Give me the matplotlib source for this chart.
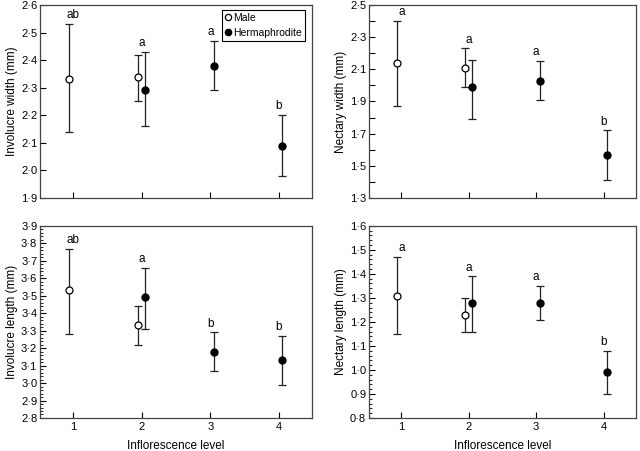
import numpy as np
import matplotlib
matplotlib.use('Agg')
import matplotlib.pyplot as plt
from matplotlib.ticker import MultipleLocator, FuncFormatter
from matplotlib.lines import Line2D

plt.rcParams['font.family'] = ['Liberation Sans', 'DejaVu Sans']
plt.rcParams['font.size'] = 8

# inflorescence levels for each sex
male_levels = [1, 2]
herm_levels = [2, 3, 4]
letter_levels = [1, 2, 3, 4]

# involucre width (mm)
iw_male = [2.33, 2.34]
iw_male_lo = [2.14, 2.25]
iw_male_hi = [2.53, 2.42]
iw_herm = [2.29, 2.38, 2.09]
iw_herm_lo = [2.16, 2.29, 1.98]
iw_herm_hi = [2.43, 2.47, 2.20]
iw_letters = ['ab', 'a', 'a', 'b']

# nectary width (mm)
nw_male = [2.14, 2.11]
nw_male_lo = [1.87, 1.99]
nw_male_hi = [2.40, 2.23]
nw_herm = [1.99, 2.03, 1.57]
nw_herm_lo = [1.79, 1.91, 1.41]
nw_herm_hi = [2.16, 2.15, 1.72]
nw_letters = ['a', 'a', 'a', 'b']

# involucre length (mm)
il_male = [3.53, 3.33]
il_male_lo = [3.28, 3.22]
il_male_hi = [3.77, 3.44]
il_herm = [3.49, 3.18, 3.13]
il_herm_lo = [3.31, 3.07, 2.99]
il_herm_hi = [3.66, 3.29, 3.27]
il_letters = ['ab', 'a', 'b', 'b']

# nectary length (mm)
nl_male = [1.31, 1.23]
nl_male_lo = [1.15, 1.16]
nl_male_hi = [1.47, 1.30]
nl_herm = [1.28, 1.28, 0.99]
nl_herm_lo = [1.16, 1.21, 0.90]
nl_herm_hi = [1.39, 1.35, 1.08]
nl_letters = ['a', 'a', 'a', 'b']

fig = plt.figure(figsize=(6.4, 4.51), dpi=100)
ax_tl = fig.add_axes([0.0625, 0.561, 0.425, 0.428])
ax_tr = fig.add_axes([0.5766, 0.561, 0.417, 0.428])
ax_bl = fig.add_axes([0.0625, 0.0732, 0.425, 0.426])
ax_br = fig.add_axes([0.5766, 0.0732, 0.417, 0.426])

dot_fmt = FuncFormatter(lambda v, p: ('%.1f' % v).replace('.', '\u00b7'))


def panel(ax, male, mlo, mhi, herm, hlo, hhi, letters, ylim, ylabel,
          major, minor, first_tick):
    mx = np.array(male_levels) - 0.06
    hx = np.array(herm_levels) + 0.05
    male = np.array(male)
    herm = np.array(herm)
    ax.errorbar(mx, male, yerr=[male - np.array(mlo), np.array(mhi) - male],
                fmt='o', mfc='white', mec='black', mew=0.9, ms=5,
                ecolor='#222222', elinewidth=0.9, capsize=3, capthick=0.9,
                color='black')
    ax.errorbar(hx, herm, yerr=[herm - np.array(hlo), np.array(hhi) - herm],
                fmt='o', mfc='black', mec='black', ms=5,
                ecolor='#222222', elinewidth=0.9, capsize=3, capthick=0.9,
                color='black')
    # significance letters above the highest cap at each level
    tops = {}
    for x, h in zip(male_levels, mhi):
        tops[x] = max(tops.get(x, -1e9), h)
    for x, h in zip(herm_levels, hhi):
        tops[x] = max(tops.get(x, -1e9), h)
    for lev, let in zip(letter_levels, letters):
        ax.annotate(let, (lev, tops[lev]), xytext=(0, 2),
                    textcoords='offset points', ha='center', va='bottom',
                    fontsize=8.5)
    ax.set_xlim(0.52, 4.48)
    ax.set_ylim(*ylim)
    ax.set_xticks([1, 2, 3, 4])
    ax.yaxis.set_major_locator(MultipleLocator(major, offset=first_tick % major))
    if minor:
        ax.yaxis.set_minor_locator(MultipleLocator(minor))
    ax.yaxis.set_major_formatter(dot_fmt)
    ax.set_ylabel(ylabel, fontsize=8.5, labelpad=2)
    ax.tick_params(direction='in', length=4, width=0.8, pad=2, labelsize=8)
    ax.tick_params(which='minor', direction='in', length=2, width=0.6)
    for s in ax.spines.values():
        s.set_color('#444444')
        s.set_linewidth(0.9)


panel(ax_tl, iw_male, iw_male_lo, iw_male_hi, iw_herm, iw_herm_lo, iw_herm_hi,
      iw_letters, (1.9, 2.6), 'Involucre width (mm)', 0.1, None, 1.9)
panel(ax_tr, nw_male, nw_male_lo, nw_male_hi, nw_herm, nw_herm_lo, nw_herm_hi,
      nw_letters, (1.3, 2.5), 'Nectary width (mm)', 0.2, 0.1, 1.3)
panel(ax_bl, il_male, il_male_lo, il_male_hi, il_herm, il_herm_lo, il_herm_hi,
      il_letters, (2.8, 3.9), 'Involucre length (mm)', 0.1, 0.02, 2.8)
panel(ax_br, nl_male, nl_male_lo, nl_male_hi, nl_herm, nl_herm_lo, nl_herm_hi,
      nl_letters, (0.8, 1.6), 'Nectary length (mm)', 0.1, 0.02, 0.8)

# minor ticks on top-right should be as long as major ones
ax_tr.tick_params(which='minor', length=4, width=0.8)

for ax in (ax_tl, ax_tr):
    ax.set_xticklabels([])
for ax in (ax_bl, ax_br):
    ax.set_xlabel('Inflorescence level', fontsize=8.5, labelpad=5.5)
    ax.tick_params(axis='x', pad=3)

# legend only in first panel, markers without error bars
handles = [Line2D([], [], ls='none', marker='o', mfc='white', mec='black', ms=4.5, mew=0.9),
           Line2D([], [], ls='none', marker='o', mfc='black', mec='black', ms=4.5)]
leg = ax_tl.legend(handles, ['Male', 'Hermaphrodite'], loc='upper right',
                   bbox_to_anchor=(0.975, 0.975), fancybox=False, framealpha=1,
                   edgecolor='black', handlelength=0.5, handletextpad=0.3,
                   borderpad=0.3, labelspacing=0.5, borderaxespad=0, fontsize=7.5)
leg.get_frame().set_linewidth(0.8)

fig.savefig('out.png', dpi=100)
